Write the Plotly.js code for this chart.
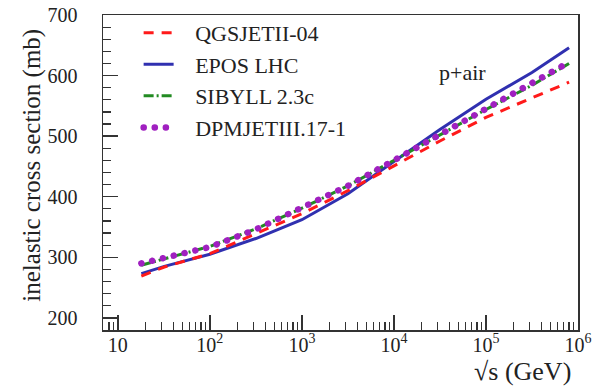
<!DOCTYPE html>
<html>
<head>
<meta charset="utf-8">
<script src="https://cdn.plot.ly/plotly-3.0.1.min.js"></script>
<style>body{margin:0;padding:0;background:#fff}</style>
</head>
<body>
<div id="chart" style="width:597px;height:388px"></div>
<script>
// sqrt(s) in GeV
const sqrtS = [18, 32, 100, 316, 1000, 3162, 10000, 31623, 100000, 316228, 800000];
// inelastic p+air cross sections (mb)
const qgsjet = [269, 284, 306, 339, 372, 410, 451, 492, 531, 563, 589];
const epos   = [273, 285, 305, 331, 362, 405, 458, 511, 561, 605, 646];
const sibyll = [287, 297, 318, 347, 381, 418, 460, 502, 544, 584, 620];
const dpmjet = [290, 299, 317, 346, 381, 418, 460, 503, 545, 586, 622];

const xTickVals = [10, 100, 1000, 10000, 100000, 1000000];
const xTickText = ["10", "10<sup>2</sup>", "10<sup>3</sup>", "10<sup>4</sup>", "10<sup>5</sup>", "10<sup>6</sup>"];
const yTickVals = [200, 300, 400, 500, 600, 700];

const FONT = "Liberation Serif";
const pad = "\u00a0\u00a0\u00a0";

const xMinor = [7, 8, 9];
for (let d = 10; d <= 100000; d *= 10) for (let k = 2; k <= 9; k++) xMinor.push(k * d);

const traces = [
  {x: sqrtS, y: epos, name: pad + "EPOS LHC", mode: "lines", legendrank: 2,
   line: {color: "#3030b0", width: 3}},
  {x: sqrtS, y: qgsjet, name: pad + "QGSJETII-04", mode: "lines", legendrank: 1,
   line: {color: "#ff1a1a", width: 3, dash: "10px,8px"}},
  {x: sqrtS, y: sibyll, name: pad + "SIBYLL 2.3c", mode: "lines", legendrank: 3,
   line: {color: "#228b22", width: 3, dash: "10px,3px,2px,3px"}},
  {x: sqrtS, y: dpmjet, name: pad + "DPMJETIII.17-1", mode: "lines", legendrank: 4,
   line: {color: "#a020c0", width: 6.5, dash: "1px,10px"}}
];

const layout = {
  width: 597, height: 388,
  margin: {l: 103, r: 19, t: 15, b: 58},
  paper_bgcolor: "#fff", plot_bgcolor: "#fff",
  font: {family: FONT, size: 20, color: "#222"},
  showlegend: true,
  legend: {x: 0.075, y: 1.01, xanchor: "left", yanchor: "top",
           bgcolor: "rgba(0,0,0,0)", font: {family: FONT, size: 22, color: "#222"},
           traceorder: "normal"},
  xaxis: {
    type: "log", range: [Math.log10(6.9), 6],
    tickmode: "array", tickvals: xTickVals, ticktext: xTickText,
    ticks: "inside", ticklen: 15, tickwidth: 1.5, tickcolor: "#333",
    minor: {tickmode: "array", tickvals: xMinor, ticks: "inside", ticklen: 8, tickwidth: 1.2, tickcolor: "#333"},
    showline: true, linecolor: "#333", linewidth: 1.5, mirror: true,
    showgrid: false, zeroline: false,
    tickfont: {family: FONT, size: 20, color: "#222"},
    ticklabelstandoff: -4
  },
  yaxis: {
    range: [180, 700],
    tickmode: "array", tickvals: yTickVals,
    ticks: "inside", ticklen: 15, tickwidth: 1.5, tickcolor: "#333",
    minor: {dtick: 20, ticks: "inside", ticklen: 8, tickwidth: 1.2, tickcolor: "#333"},
    showline: true, linecolor: "#333", linewidth: 1.5, mirror: true,
    showgrid: false, zeroline: false,
    tickfont: {family: FONT, size: 20, color: "#222"},
    ticklabelstandoff: 20
  },
  annotations: [
    {text: "inelastic cross section (mb)", xref: "paper", yref: "paper",
     x: -0.15, y: 0.524, xanchor: "center", yanchor: "middle", textangle: -90,
     showarrow: false, font: {family: FONT, size: 25, color: "#222"}},
    {text: "p+air", xref: "paper", yref: "paper", x: 0.756, y: 0.816,
     xanchor: "center", yanchor: "middle", showarrow: false,
     font: {family: FONT, size: 22, color: "#222"}},
    {text: "√s (GeV)", xref: "paper", yref: "paper", x: 0.99, y: -0.133,
     xanchor: "right", yanchor: "middle", showarrow: false,
     font: {family: FONT, size: 26, color: "#222"}}
  ]
};

function roundDots(p) {
  p.style.strokeLinecap = "round";
  p.style.strokeDasharray = "0.1px,11px";
}

Plotly.newPlot("chart", traces, layout, {displayModeBar: false, staticPlot: true}).then(function () {
  const tr = document.querySelectorAll(".scatterlayer .trace");
  if (tr[3]) tr[3].querySelectorAll("path.js-line").forEach(roundDots);
  document.querySelectorAll(".legend .traces").forEach(function (g) {
    const t = g.querySelector("text.legendtext");
    if (t && t.textContent.indexOf("DPMJET") >= 0) {
      g.querySelectorAll("path.js-line").forEach(roundDots);
    }
  });
});
</script>
</body>
</html>
